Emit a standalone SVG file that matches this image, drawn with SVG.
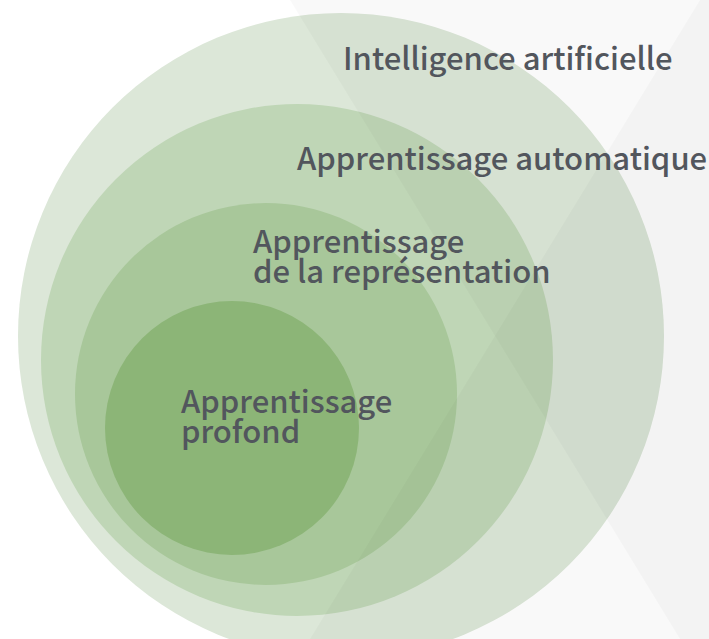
<svg xmlns="http://www.w3.org/2000/svg" width="709" height="639" viewBox="0 0 709 639">
<style>
.bg{fill:#000;fill-opacity:0.025}
.lbl{font-family:"Noto Sans CJK JP","Noto Sans",sans-serif;font-weight:500;font-size:31px;fill:#52565d}
</style>
<rect x="0" y="0" width="709" height="639" fill="#ffffff"/>
<g id="ai"><circle cx="341" cy="336" r="323" fill="#dce7d8"/></g>
<g id="ml"><circle cx="297" cy="360" r="256" fill="#bfd6b6"/></g>
<g id="rl"><circle cx="266" cy="394" r="191" fill="#a8c79a"/></g>
<g id="dl"><circle cx="232" cy="428" r="127" fill="#8cb577"/></g>
<g id="background">
<polygon class="bg" points="290,0 709,0 709,639 680,639"/>
<polygon class="bg" points="700,0 709,0 709,639 310,639"/>
</g>
<g id="labels">
<text class="lbl" x="343" y="70">Intelligence artificielle</text>
<text class="lbl" x="297" y="170">Apprentissage automatique</text>
<text class="lbl" x="253" y="253">Apprentissage</text>
<text class="lbl" x="253" y="283">de la représentation</text>
<text class="lbl" x="181" y="413">Apprentissage</text>
<text class="lbl" x="181" y="443">profond</text>
</g>
</svg>
